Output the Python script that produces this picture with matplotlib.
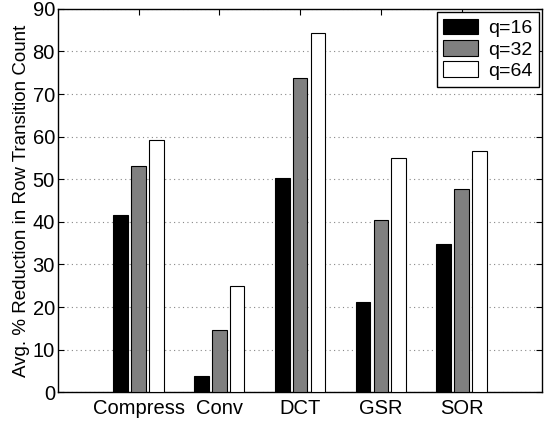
import matplotlib
matplotlib.use("Agg")
import matplotlib.pyplot as plt
import numpy as np

categories = ["Compress", "Conv", "DCT", "GSR", "SOR"]
series_labels = ["q=16", "q=32", "q=64"]
q16 = [41.6, 3.8, 50.2, 21.1, 34.7]
q32 = [53.1, 14.6, 73.8, 40.5, 47.7]
q64 = [59.3, 25.0, 84.4, 55.1, 56.6]
colors = ["#000000", "#808080", "#ffffff"]

plt.rcParams['font.family'] = ['Liberation Sans', 'DejaVu Sans']

fig = plt.figure(figsize=(5.45, 4.24), dpi=100)
ax = fig.add_axes([0.106, 0.075, 0.889, 0.904])

x = np.arange(1, len(categories) + 1)
offsets = [-0.22, 0.0, 0.22]
width = 0.18
for vals, off, c, lab in zip([q16, q32, q64], offsets, colors, series_labels):
    ax.bar(x + off, vals, width, color=c, edgecolor="black", linewidth=0.8, label=lab, zorder=3)

ax.set_xlim(0, 6)
ax.set_ylim(0, 90)
ax.set_xticks(x)
ax.set_xticklabels(categories, fontsize=14.5)
ax.set_yticks(np.arange(0, 91, 10))
ax.tick_params(axis='y', labelsize=14.5, pad=2)
ax.tick_params(axis='x', pad=5)
ax.tick_params(direction='in', top=True, right=True, length=4)
ax.yaxis.grid(True, linestyle=(0, (1, 3)), color="#888888", linewidth=0.8, zorder=0)
ax.set_ylabel("Avg. % Reduction in Row Transition Count", fontsize=13.5, labelpad=2)
for s in ax.spines.values():
    s.set_linewidth(1.0)

leg = ax.legend(loc="upper right", fontsize=14, fancybox=False, edgecolor="black",
                framealpha=1, borderaxespad=0.15, handlelength=1.8, handleheight=0.85,
                labelspacing=0.15, handletextpad=0.5, borderpad=0.35)
leg.get_frame().set_linewidth(1.0)

fig.savefig("out.png", dpi=100)
